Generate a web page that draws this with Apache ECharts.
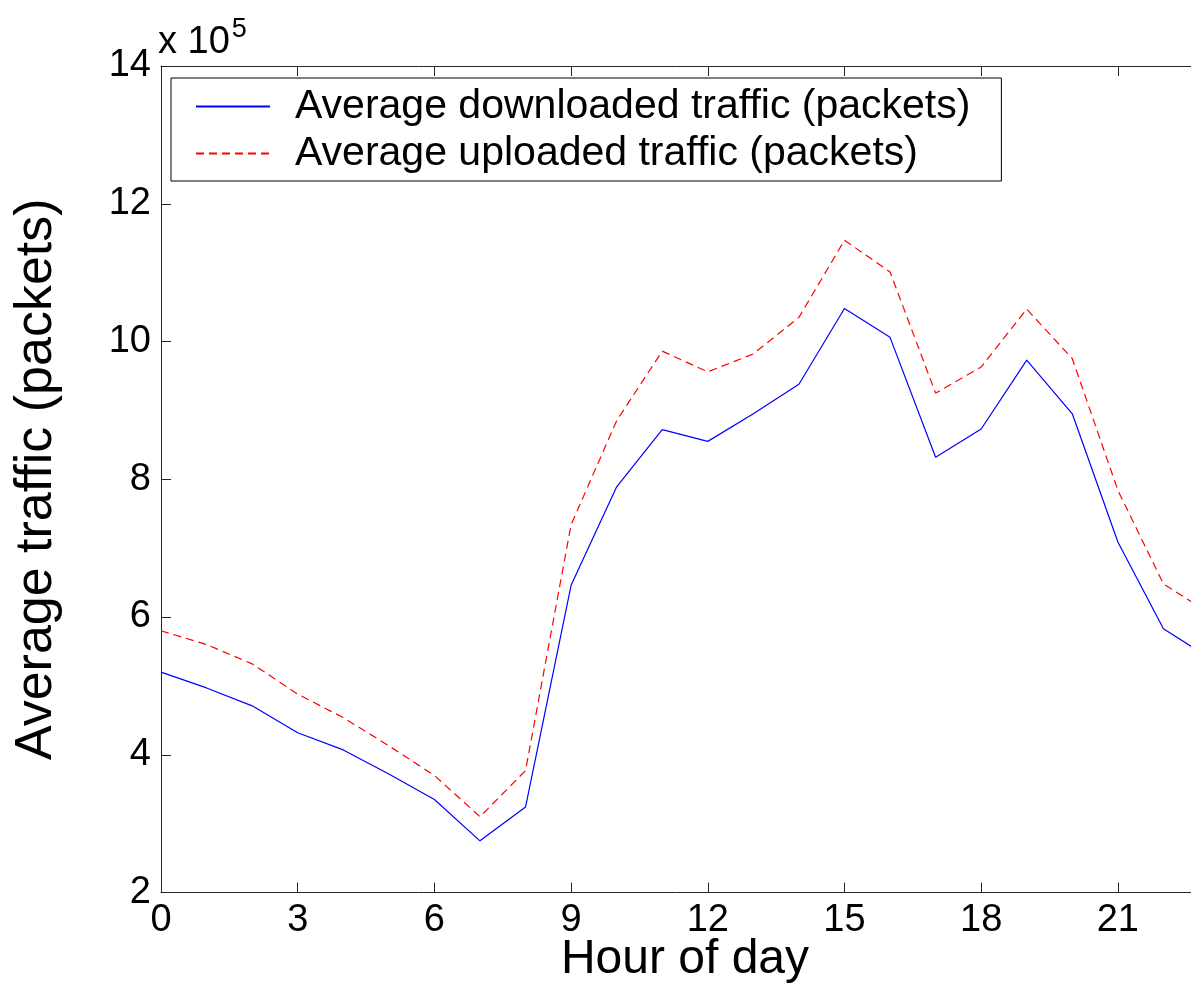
<!DOCTYPE html>
<html>
<head>
<meta charset="utf-8">
<script src="https://cdn.jsdelivr.net/npm/echarts@6/dist/echarts.min.js"></script>
<style>html,body{margin:0;padding:0;background:#fff;}#c{width:1191px;height:986px;}</style>
</head>
<body>
<div id="c"></div>
<script>
// Hour of day (0..23)
const hours = [0,1,2,3,4,5,6,7,8,9,10,11,12,13,14,15,16,17,18,19,20,21,22,23];
// Average traffic in units of 10^5 packets
const downloaded = [5.20,4.97,4.71,4.32,4.07,3.72,3.35,2.75,3.24,6.46,7.89,8.72,8.55,8.95,9.38,10.48,10.06,8.32,8.73,9.73,8.95,7.09,5.83,5.41];
const uploaded   = [5.80,5.60,5.32,4.88,4.54,4.13,3.70,3.10,3.77,7.34,8.85,9.86,9.56,9.82,10.35,11.47,11.01,9.25,9.63,10.47,9.75,7.84,6.48,6.06];
const seriesNames = ['Average downloaded traffic (packets)', 'Average uploaded traffic (packets)'];
const xTitle = 'Hour of day';
const yTitle = 'Average traffic (packets)';

const FONT = "'Liberation Sans', Arial, Helvetica, sans-serif";
const chart = echarts.init(document.getElementById('c'));
const axisColor = '#262626';
const pair = (arr) => hours.map((h, i) => [h, arr[i]]);

chart.setOption({
  animation: false,
  backgroundColor: '#fff',
  title: {
    text: '{a|x 10}{b|5}',
    left: 158, top: 16, padding: 0,
    textStyle: {
      fontWeight: 'normal',
      rich: {
        a: { fontFamily: FONT, fontSize: 38, fontWeight: 'normal', color: '#000', lineHeight: 46, verticalAlign: 'bottom' },
        b: { fontFamily: FONT, fontSize: 27, fontWeight: 'normal', color: '#000', lineHeight: 27, verticalAlign: 'top', padding: [0,0,0,2] }
      }
    }
  },
  grid: { left: 161, width: 1048, top: 66, bottom: 93.5, show: false, outerBoundsMode: 'none', containLabel: false },
  legend: {
    left: 171, top: 78, orient: 'vertical',
    backgroundColor: '#fff', borderColor: '#000', borderWidth: 1,
    padding: [8, 31, 7, 24],
    itemWidth: 74, itemHeight: 2, itemGap: 6,
    itemStyle: { color: 'transparent', borderWidth: 0, opacity: 0 },
    textStyle: { fontFamily: FONT, fontSize: 41, color: '#000', padding: [0,0,0,20], lineHeight: 41 },
    data: seriesNames
  },
  xAxis: [{
    type: 'value', min: 0, max: 23, interval: 3,
    name: xTitle, nameLocation: 'middle', nameGap: 43, nameMoveOverlap: false,
    nameTextStyle: { fontFamily: FONT, fontSize: 48, color: '#000' },
    axisLine: { show: true, onZero: false, lineStyle: { color: axisColor, width: 1 } },
    axisTick: { show: true, inside: true, length: 10, lineStyle: { color: axisColor } },
    axisLabel: { fontFamily: FONT, fontSize: 38, color: '#000', margin: 9, showMaxLabel: false },
    splitLine: { show: false }
  }, {
    type: 'value', position: 'top', min: 0, max: 23, interval: 3,
    axisLine: { show: true, onZero: false, lineStyle: { color: axisColor, width: 1 } },
    axisTick: { show: true, inside: true, length: 10, lineStyle: { color: axisColor } },
    axisLabel: { show: false }, splitLine: { show: false }
  }],
  yAxis: [{
    type: 'value', min: 2, max: 14, interval: 2,
    name: yTitle, nameLocation: 'middle', nameGap: 98, nameRotate: 90, nameMoveOverlap: false,
    nameTextStyle: { fontFamily: FONT, fontSize: 52, color: '#000' },
    axisLine: { show: true, onZero: false, lineStyle: { color: axisColor, width: 1 } },
    axisTick: { show: true, inside: true, length: 10, lineStyle: { color: axisColor } },
    axisLabel: { fontFamily: FONT, fontSize: 38, color: '#000', margin: 10 },
    splitLine: { show: false }
  }, {
    type: 'value', position: 'right', min: 2, max: 14, interval: 2,
    axisLine: { show: true, onZero: false, lineStyle: { color: axisColor, width: 1 } },
    axisTick: { show: true, inside: true, length: 10, lineStyle: { color: axisColor } },
    axisLabel: { show: false }, splitLine: { show: false }
  }],
  series: [{
    name: seriesNames[0], type: 'line', data: pair(downloaded),
    showSymbol: false, symbol: 'none',
    lineStyle: { color: '#0000ff', width: 1.2, type: 'solid' },
    itemStyle: { color: '#0000ff' }
  }, {
    name: seriesNames[1], type: 'line', data: pair(uploaded),
    showSymbol: false, symbol: 'none',
    lineStyle: { color: '#ff0000', width: 1.2, type: [8, 5] },
    itemStyle: { color: '#ff0000' }
  }]
});
</script>
</body>
</html>
